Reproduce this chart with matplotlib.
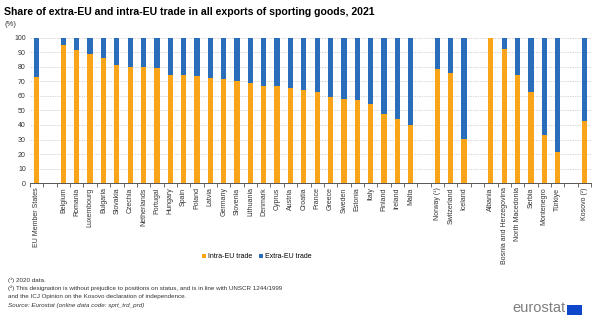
import numpy as np
import matplotlib.pyplot as plt
from matplotlib.patches import Rectangle

plt.rcParams['font.family'] = ['Liberation Sans', 'DejaVu Sans']

# categories ('' = empty slot between groups)
paises = ['EU Member States', '',
          'Belgium', 'Romania', 'Luxembourg', 'Bulgaria', 'Slovakia', 'Czechia',
          'Netherlands', 'Portugal', 'Hungary', 'Spain', 'Poland', 'Latvia',
          'Germany', 'Slovenia', 'Lithuania', 'Denmark', 'Cyprus', 'Austria',
          'Croatia', 'France', 'Greece', 'Sweden', 'Estonia', 'Italy',
          'Finland', 'Ireland', 'Malta', '',
          'Norway (¹)', 'Switzerland', 'Iceland', '',
          'Albania', 'Bosnia and Herzegovina', 'North Macedonia', 'Serbia',
          'Montenegro', 'Türkiye', '',
          'Kosovo (²)']
intra = [72.6, None,
         95.0, 91.8, 88.6, 85.9, 81.0, 79.7,
         79.7, 79.2, 74.2, 74.2, 73.5, 72.4,
         71.5, 69.9, 69.0, 66.5, 66.5, 65.3,
         63.9, 62.8, 59.1, 57.5, 56.9, 54.6,
         47.5, 44.0, 40.0, None,
         78.3, 76.0, 30.4, None,
         99.4, 92.0, 74.2, 62.8,
         33.3, 21.7, None,
         42.5]

x = np.arange(len(paises))
idx = [i for i, v in enumerate(intra) if v is not None]
v_intra = np.array([intra[i] for i in idx])
v_extra = 100 - v_intra

naranja = '#faa519'
azul = '#2a6ebb'

fig = plt.figure(figsize=(6, 3.21), dpi=100)
ax = fig.add_axes([0.05, 0.429, 0.935, 0.454])

ax.bar(idx, v_intra, width=0.4, color=naranja, label='Intra-EU trade', zorder=3)
ax.bar(idx, v_extra, width=0.4, bottom=v_intra, color=azul, label='Extra-EU trade', zorder=3)

ax.set_xlim(-0.5, len(paises) - 0.5)
ax.set_ylim(0, 100)
ax.set_yticks(range(0, 101, 10))
ax.tick_params(axis='y', length=0, labelsize=5, colors='#333333', pad=3)
ax.yaxis.grid(True, color='#c8c8c8', linestyle=(0, (2, 1.5)), linewidth=0.5, zorder=0)

ax.set_xticks(x)
ax.set_xticklabels(paises, rotation=90, fontsize=5, color='#333333')
ax.tick_params(axis='x', length=0, pad=3)
ax.set_xticks(np.arange(-0.5, len(paises), 1), minor=True)
ax.tick_params(axis='x', which='minor', length=3, width=0.6, color='#555555')

for s in ['top', 'right', 'left']:
    ax.spines[s].set_visible(False)
ax.spines['bottom'].set_color('#555555')
ax.spines['bottom'].set_linewidth(0.7)

fig.text(0.007, 0.978, 'Share of extra-EU and intra-EU trade in all exports of sporting goods, 2021',
         fontsize=7.6, fontweight='bold', va='top', ha='left')
fig.text(0.007, 0.935, '(%)', fontsize=5.5, va='top', ha='left', color='#333333')

leg = fig.legend(loc='center', bbox_to_anchor=(0.428, 0.2), ncol=2, frameon=False,
                 fontsize=5, handlelength=0.6, handleheight=0.6, handletextpad=0.3,
                 columnspacing=1.0)

notas = ['(¹) 2020 data.',
         '(²) This designation is without prejudice to positions on status, and is in line with UNSCR 1244/1999',
         'and the ICJ Opinion on the Kosovo declaration of independence.']
for i, t in enumerate(notas):
    fig.text(0.013, 0.128 - i * 0.026, t, fontsize=4.5, va='center', color='#333333')
fig.text(0.013, 0.047, 'Source: Eurostat (online data code: sprt_trd_prd)', fontsize=4.5,
         va='center', style='italic', color='#333333')

fig.text(0.942, 0.02, 'eurostat', fontsize=10.5, color='#7f7f7f', ha='right', va='bottom')
fig.patches.append(Rectangle((0.945, 0.02), 0.025, 0.03, transform=fig.transFigure,
                             facecolor='#0e47cb', edgecolor='none'))

fig.savefig('out.png', dpi=100)
